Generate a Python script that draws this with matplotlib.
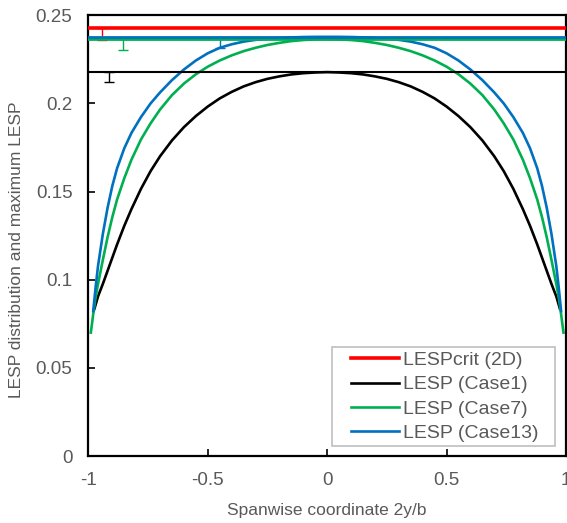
import numpy as np
import matplotlib
matplotlib.use('Agg')
import matplotlib.pyplot as plt
from matplotlib.patches import Rectangle

plt.rcParams['font.family'] = ['Liberation Sans', 'DejaVu Sans']

# spanwise stations (2y/b) and LESP distributions
span_case1 = [-0.975, -0.96, -0.94, -0.92, -0.90, -0.88, -0.85, -0.82, -0.78, -0.74, -0.70, -0.65, -0.60,
              -0.55, -0.50, -0.45, -0.40, -0.35, -0.30, -0.25, -0.20, -0.15, -0.10, -0.05, 0.0,
              0.05, 0.10, 0.15, 0.20, 0.25, 0.30, 0.35, 0.40, 0.45, 0.50, 0.55,
              0.60, 0.65, 0.70, 0.74, 0.78, 0.82, 0.85, 0.88, 0.90, 0.92, 0.94, 0.96, 0.975]
lesp_case1 = [0.0835, 0.0905, 0.0975, 0.1050, 0.1125, 0.1200, 0.1305, 0.1400, 0.1515, 0.1615, 0.1700, 0.1790, 0.1865,
              0.1928, 0.1982, 0.2028, 0.2065, 0.2096, 0.2120, 0.2139, 0.2153, 0.2164, 0.2171, 0.2175, 0.2177,
              0.2175, 0.2171, 0.2164, 0.2153, 0.2139, 0.2120, 0.2096, 0.2065, 0.2028, 0.1982, 0.1928,
              0.1865, 0.1790, 0.1700, 0.1615, 0.1515, 0.1400, 0.1305, 0.1200, 0.1125, 0.1050, 0.0975, 0.0905, 0.0835]

span_case7 = [-0.99, -0.98, -0.97, -0.96, -0.94, -0.92, -0.90, -0.88, -0.85, -0.82, -0.78, -0.74, -0.70, -0.65, -0.60,
              -0.55, -0.50, -0.45, -0.40, -0.35, -0.30, -0.25, -0.20, -0.15, -0.10, -0.05, 0.0,
              0.05, 0.10, 0.15, 0.20, 0.25, 0.30, 0.35, 0.40, 0.45, 0.50, 0.55,
              0.60, 0.65, 0.70, 0.74, 0.78, 0.82, 0.85, 0.88, 0.90, 0.92, 0.94, 0.96, 0.97, 0.98, 0.99]
lesp_case7 = [0.0700, 0.0805, 0.0900, 0.0975, 0.1110, 0.1240, 0.1355, 0.1455, 0.1575, 0.1680, 0.1795, 0.1886, 0.1965,
              0.2047, 0.2112, 0.2165, 0.2208, 0.2243, 0.2272, 0.2296, 0.2315, 0.2331, 0.2343, 0.2353, 0.2359,
              0.2363, 0.2365,
              0.2363, 0.2359, 0.2353, 0.2343, 0.2331, 0.2315, 0.2296, 0.2272, 0.2243, 0.2208, 0.2165,
              0.2112, 0.2047, 0.1965, 0.1886, 0.1795, 0.1680, 0.1575, 0.1455, 0.1355, 0.1240, 0.1110, 0.0975,
              0.0900, 0.0805, 0.0700]

span_case13 = [-0.98, -0.97, -0.96, -0.94, -0.92, -0.90, -0.88, -0.85, -0.82, -0.78, -0.74, -0.70, -0.65, -0.60,
               -0.55, -0.50, -0.45, -0.40, -0.35, -0.30, -0.25, -0.20, -0.15, -0.10, -0.05, 0.0,
               0.05, 0.10, 0.15, 0.20, 0.25, 0.30, 0.35, 0.40, 0.45, 0.50, 0.55,
               0.60, 0.65, 0.70, 0.74, 0.78, 0.82, 0.85, 0.88, 0.90, 0.92, 0.94, 0.96, 0.97, 0.98]
lesp_case13 = [0.0822, 0.0957, 0.1077, 0.1257, 0.1407, 0.1532, 0.1632, 0.1745, 0.1832, 0.1922, 0.1999, 0.2062,
               0.2132, 0.2192, 0.2243, 0.2284, 0.2315, 0.2335, 0.2350, 0.2360, 0.2366, 0.2371, 0.2374, 0.2376,
               0.2377, 0.2377,
               0.2377, 0.2376, 0.2374, 0.2371, 0.2366, 0.2360, 0.2350, 0.2335, 0.2315, 0.2284, 0.2243,
               0.2192, 0.2132, 0.2062, 0.1999, 0.1922, 0.1832, 0.1745, 0.1632, 0.1532, 0.1407, 0.1257, 0.1077,
               0.0957, 0.0822]

# maximum LESP levels
lesp_crit = 0.2426
max_case1 = 0.2177
max_case7 = 0.2365
max_case13 = 0.2375

# small error bars (x position, lower error)
err_x = [-0.945, -0.914, -0.855, -0.447]
err_y = [lesp_crit, max_case1, max_case7, max_case13]
err_lo = [0.0068, 0.0055, 0.0064, 0.0060]

red = '#ff0000'
green = '#00b050'
blue = '#0070c0'
gray = '#595959'
err_colors = [red, 'black', green, blue]

fig = plt.figure(figsize=(5.67, 5.23), dpi=100)
ax = fig.add_axes([0.156, 0.128, 0.842, 0.843])

ax.plot([-1, 1], [lesp_crit, lesp_crit], color=red, lw=2.6, label='LESPcrit (2D)', zorder=5)
ax.plot([-1, 1], [max_case1, max_case1], color='black', lw=1.5, zorder=4)
ax.plot([-1, 1], [max_case7, max_case7], color=green, lw=2.0, zorder=4)
ax.plot([-1, 1], [max_case13, max_case13], color=blue, lw=2.0, zorder=4)

ax.plot(span_case1, lesp_case1, color='black', lw=1.9, label='LESP (Case1)')
ax.plot(span_case7, lesp_case7, color=green, lw=1.9, label='LESP (Case7)')
ax.plot(span_case13, lesp_case13, color=blue, lw=1.9, label='LESP (Case13)')

for xe, ye, lo, c in zip(err_x, err_y, err_lo, err_colors):
    ax.errorbar([xe], [ye], yerr=[[lo], [0]], fmt='none', ecolor=c, elinewidth=1.0,
                capsize=3.6, capthick=1.0, zorder=3)

ax.set_xlim(-1, 1)
ax.set_ylim(0, 0.25)
ax.set_xticks([-1, -0.5, 0, 0.5, 1])
ax.set_xticklabels(['-1', '-0.5', '0', '0.5', '1'])
ax.set_yticks([0, 0.05, 0.1, 0.15, 0.2, 0.25])
ax.set_yticklabels(['0', '0.05', '0.1', '0.15', '0.2', '0.25'])
ax.tick_params(direction='in', length=5, width=1.2, colors='black', labelcolor=gray,
               labelsize=13.5, pad=11.5)

for s in ax.spines.values():
    s.set_linewidth(1.6)

ax.set_xlabel('Spanwise coordinate 2y/b', fontsize=12.5, color=gray, labelpad=10)
ax.set_ylabel('LESP distribution and maximum LESP', fontsize=12.5, color=gray)
ax.yaxis.set_label_coords(-0.135, 0.467)

# legend box
ax.add_patch(Rectangle((0.511, 0.0227), 0.466, 0.225, transform=ax.transAxes, facecolor='white',
                       edgecolor='#bfbfbf', lw=1.2, zorder=6))
leg = ax.legend(loc='upper left', bbox_to_anchor=(0.549, 0.237), fontsize=14, frameon=False,
                handlelength=2.5, handletextpad=0.2, borderpad=0, borderaxespad=0, labelspacing=0.34)
leg.set_zorder(7)
for t in leg.get_texts():
    t.set_color(gray)

fig.savefig('out.png', dpi=100)
